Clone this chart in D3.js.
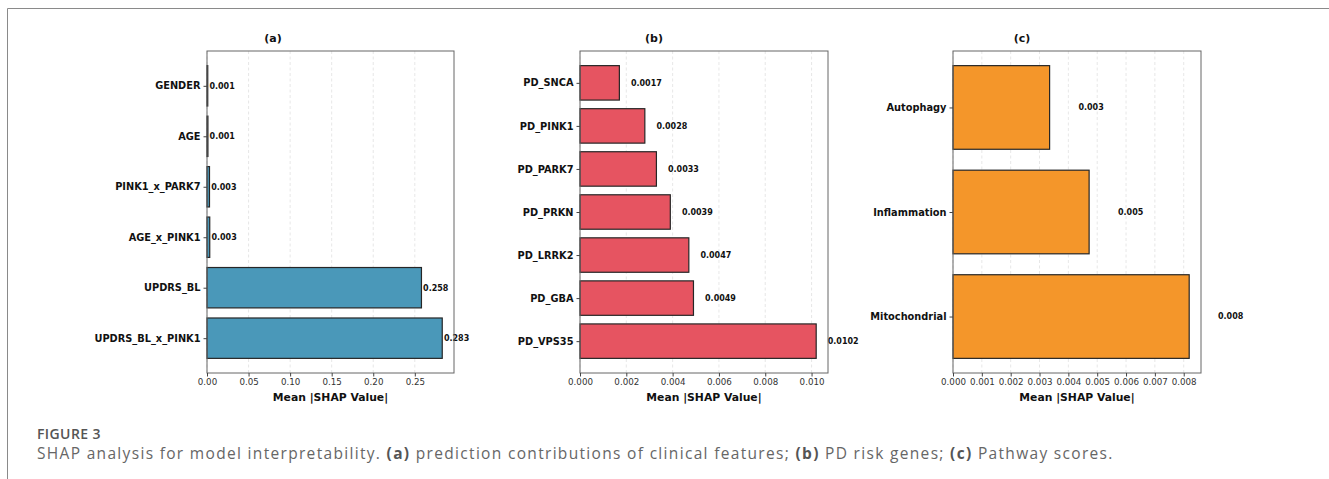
<!DOCTYPE html><head><meta charset = "utf-8">
<title>SHAP figure 3</title>
<script type="text/javascript" src="https://cdn.jsdelivr.net/npm/d3@7/dist/d3.min.js"></script>
<style type = "text/css">
body {
  margin: 0;
  background: white;
}
svg text {
  font-family: "DejaVu Sans", sans-serif;
}
.caption text {
  font-family: "Open Sans", "Lato", sans-serif;
}
</style>
</head><body>
<svg id="fig" width="1329" height="479"></svg>

<script type="text/javascript">

// panel (a) clinical features, listed top to bottom
var clinicalNames = ["GENDER", "AGE", "PINK1_x_PARK7", "AGE_x_PINK1", "UPDRS_BL", "UPDRS_BL_x_PINK1"];
var clinicalVals = [0.0009, 0.0011, 0.0030, 0.0033, 0.258, 0.283];
var clinicalTicks = [0, 0.05, 0.10, 0.15, 0.20, 0.25];

// panel (b) PD risk genes
var geneNames = ["PD_SNCA", "PD_PINK1", "PD_PARK7", "PD_PRKN", "PD_LRRK2", "PD_GBA", "PD_VPS35"];
var geneVals = [0.0017, 0.0028, 0.0033, 0.0039, 0.0047, 0.0049, 0.0102];
var geneTicks = [0, 0.002, 0.004, 0.006, 0.008, 0.010];

// panel (c) pathway scores
var pathwayNames = ["Autophagy", "Inflammation", "Mitochondrial"];
var pathwayVals = [0.00335, 0.00472, 0.00819];
var pathwayTicks = [0, 0.001, 0.002, 0.003, 0.004, 0.005, 0.006, 0.007, 0.008];

var panels = [
  {title: "(a)", names: clinicalNames, vals: clinicalVals, ticks: clinicalTicks,
   tickFmt: ".2f", labFmt: ".3f", labOff: 0.002, color: "#4a98b9",
   left: 207, right: 454, titleX: 273},
  {title: "(b)", names: geneNames, vals: geneVals, ticks: geneTicks,
   tickFmt: ".3f", labFmt: ".4f", labOff: 0.0005, color: "#e65461",
   left: 580, right: 828, titleX: 654},
  {title: "(c)", names: pathwayNames, vals: pathwayVals, ticks: pathwayTicks,
   tickFmt: ".3f", labFmt: ".3f", labOff: 0.001, color: "#f4962a",
   left: 953, right: 1201, titleX: 1022}
];

var plotTop = 51, plotBottom = 373;
var svg = d3.select("#fig");

// outer frame of the figure
svg.append("path")
  .attr("d", "M7.5,479 L7.5,8.5 L1330,8.5")
  .attr("fill", "none")
  .attr("stroke", "#8a8a8a")
  .attr("stroke-width", 1);

panels.forEach(function(p) {
  var n = p.names.length;
  // matplotlib style limits: bars of height 0.8 plus 5% margin
  var span = (n - 1) + 0.8;
  var ylo = -0.4 - 0.05 * span, yhi = (n - 1) + 0.4 + 0.05 * span;
  var y = d3.scaleLinear().domain([ylo, yhi]).range([plotBottom, plotTop]);
  var x = d3.scaleLinear().domain([0, d3.max(p.vals) * 1.05]).range([p.left, p.right]);
  var pos = function(i) { return n - 1 - i; };

  var g = svg.append("g");

  // dashed x grid
  g.selectAll("line.grid")
    .data(p.ticks)
    .join("line").attr("class", "grid")
    .attr("x1", d => x(d)).attr("x2", d => x(d))
    .attr("y1", plotTop).attr("y2", plotBottom)
    .attr("stroke", "#dcdcdc")
    .attr("stroke-width", 0.7)
    .attr("stroke-dasharray", "3,2.5");

  // bars
  g.selectAll("rect.bar")
    .data(p.vals)
    .join("rect").attr("class", "bar")
    .attr("x", x(0))
    .attr("y", (d, i) => y(pos(i) + 0.4))
    .attr("width", d => x(d) - x(0))
    .attr("height", (d, i) => y(pos(i) - 0.4) - y(pos(i) + 0.4))
    .attr("fill", p.color)
    .attr("stroke", "#262626")
    .attr("stroke-width", 1.2);

  // value labels
  g.selectAll("text.val")
    .data(p.vals)
    .join("text").attr("class", "val")
    .attr("x", d => x(d + p.labOff))
    .attr("y", (d, i) => y(pos(i)))
    .attr("dy", "0.35em")
    .style("font-size", "8px")
    .style("font-weight", "bold")
    .attr("fill", "#111")
    .text(d => d3.format(p.labFmt)(d));

  // spines
  g.append("rect")
    .attr("x", p.left).attr("y", plotTop)
    .attr("width", p.right - p.left).attr("height", plotBottom - plotTop)
    .attr("fill", "none")
    .attr("stroke", "#666")
    .attr("stroke-width", 1);

  // x axis
  var xa = g.append("g")
    .attr("transform", "translate(0," + plotBottom + ")")
    .call(d3.axisBottom(x).tickValues(p.ticks).tickFormat(d3.format(p.tickFmt)).tickSize(3.5).tickPadding(2.5).tickSizeOuter(0));
  xa.select(".domain").remove();
  xa.selectAll("line").attr("stroke", "#444");
  xa.selectAll("text").style("font-size", "8.7px").attr("fill", "#333").style("font-family", "DejaVu Sans");

  // y axis
  var ya = g.append("g")
    .attr("transform", "translate(" + p.left + ",0)")
    .call(d3.axisLeft(y).tickValues(d3.range(n)).tickFormat(d => p.names[n - 1 - d]).tickSize(3.5).tickPadding(3));
  ya.select(".domain").remove();
  ya.selectAll("line").attr("stroke", "#444");
  ya.selectAll("text").style("font-size", "9.8px").style("font-weight", "bold").attr("fill", "#111").style("font-family", "DejaVu Sans");

  // title
  g.append("text")
    .attr("x", p.titleX).attr("y", 42)
    .attr("text-anchor", "middle")
    .style("font-size", "11px")
    .style("font-weight", "bold")
    .attr("fill", "#111")
    .text(p.title);

  // x axis name
  g.append("text")
    .attr("x", (p.left + p.right) / 2).attr("y", 400.5)
    .attr("text-anchor", "middle")
    .style("font-size", "10.8px")
    .style("font-weight", "bold")
    .attr("fill", "#111")
    .text("Mean |SHAP Value|");
});

// caption
var cap = svg.append("g").attr("class", "caption");
cap.append("text")
  .attr("x", 37).attr("y", 439)
  .style("font-size", "14px")
  .style("font-weight", "600")
  .style("letter-spacing", "0.4px")
  .attr("fill", "#555")
  .text("FIGURE 3");

var line = cap.append("text")
  .attr("x", 37).attr("y", 458.5)
  .style("font-size", "15.5px")
  .style("letter-spacing", "1.32px")
  .attr("fill", "#666");
var parts = [
  ["SHAP analysis for model interpretability. ", false], ["(a)", true],
  [" prediction contributions of clinical features; ", false], ["(b)", true],
  [" PD risk genes; ", false], ["(c)", true], [" Pathway scores.", false]
];
parts.forEach(function(t) {
  line.append("tspan").style("font-weight", t[1] ? "bold" : "normal").attr("fill", t[1] ? "#555" : "#666").text(t[0]);
});

</script>

</body></html>
